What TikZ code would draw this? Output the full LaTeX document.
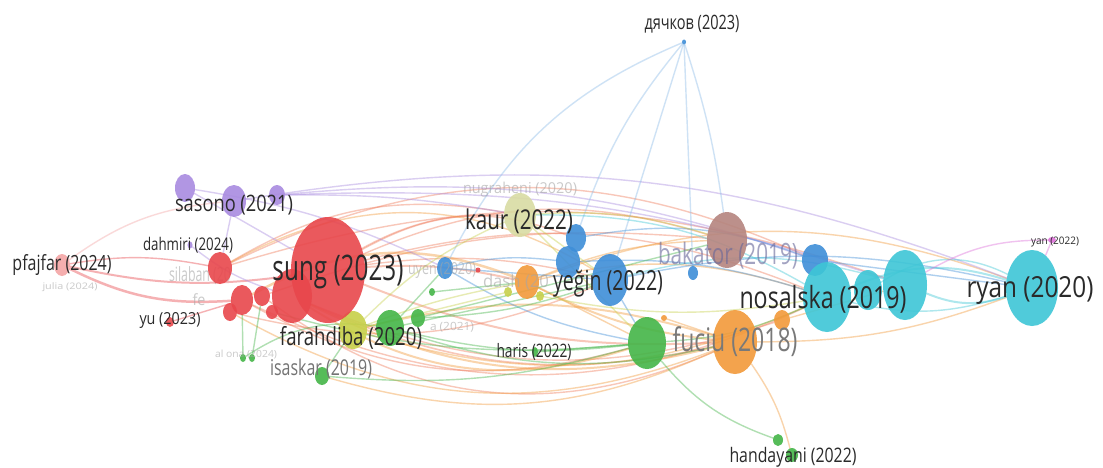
\documentclass[tikz,border=0pt]{standalone}
\usepackage{fontspec}
\setmainfont{Open Sans}
\usepackage{graphicx}
\usetikzlibrary{shapes.geometric}
\pgfdeclarelayer{bg}
\pgfdeclarelayer{bgtext}
\pgfsetlayers{bg,bgtext,main}
\definecolor{cR}{HTML}{E8474C}
\definecolor{cRe}{HTML}{F07A5A}
\definecolor{cG}{HTML}{44B548}
\definecolor{cB}{HTML}{3F8ED8}
\definecolor{cY}{HTML}{C7D04A}
\definecolor{cK}{HTML}{D9DCA3}
\definecolor{cP}{HTML}{A98BE0}
\definecolor{cC}{HTML}{3EC6D6}
\definecolor{cO}{HTML}{F29A3A}
\definecolor{cN}{HTML}{B5857F}
\definecolor{cPk}{HTML}{F4A6A6}
\definecolor{cM}{HTML}{DD6FD9}
\definecolor{txt}{HTML}{2A2A2A}
\newcommand\lbl[3]{\resizebox*{#1pt}{#2pt}{\fontsize{20}{20}\selectfont #3}}
\tikzset{
  blob/.style={ellipse, inner sep=0pt, fill opacity=0.9, draw=none},
  nR/.style={blob,fill=cR}, nG/.style={blob,fill=cG}, nB/.style={blob,fill=cB},
  nY/.style={blob,fill=cY}, nK/.style={blob,fill=cK}, nP/.style={blob,fill=cP},
  nC/.style={blob,fill=cC}, nO/.style={blob,fill=cO}, nN/.style={blob,fill=cN},
  nPk/.style={blob,fill=cPk}, nM/.style={blob,fill=cM},
  e/.style={line width=1.4pt, opacity=0.42, line cap=round},
  lab/.style={inner sep=0pt, text=txt},
  faint/.style={inner sep=0pt, text=gray!70, text opacity=0.6},
}
\begin{document}
\begin{tikzpicture}[x=1pt,y=-1pt]
\begin{pgfonlayer}{bg}
\useasboundingbox (0,0) rectangle (1103,468);
\fill[white] (0,0) rectangle (1103,468);
\end{pgfonlayer}
% ---------- bubbles ----------
\path
 (185,188) node[nP,minimum width=20pt,minimum height=28pt] (p1) {}
 (234,201) node[nP,minimum width=24pt,minimum height=32pt] (p2) {}
 (277,195) node[nP,minimum width=16pt,minimum height=20pt] (p3) {}
 (190,245) node[nP,minimum width=5pt,minimum height=7pt] (dah) {}
 (520,215) node[nK,minimum width=32pt,minimum height=44pt] (kaur) {}
 (445,268) node[nB,minimum width=16pt,minimum height=22pt] (b1) {}
 (576,238) node[nB,minimum width=20pt,minimum height=28pt] (b2) {}
 (568,262) node[nB,minimum width=24pt,minimum height=32pt] (b3) {}
 (610,280) node[nB,minimum width=36pt,minimum height=52pt] (yeg) {}
 (693,273) node[nB,minimum width=10pt,minimum height=14pt] (b5) {}
 (815,260) node[nB,minimum width=26pt,minimum height=32pt] (b6) {}
 (684,42) node[nB,minimum width=4pt,minimum height=5pt] (dya) {}
 (727,240) node[nN,minimum width=40pt,minimum height=56pt] (bak) {}
 (827,297) node[nC,minimum width=48pt,minimum height=70pt] (c1) {}
 (868,290) node[nC,minimum width=28pt,minimum height=40pt] (c2) {}
 (905,285) node[nC,minimum width=44pt,minimum height=70pt] (c3) {}
 (1032,288) node[nC,minimum width=52pt,minimum height=76pt] (ryan) {}
 (1052,240) node[nM,minimum width=8pt,minimum height=6pt] (yan) {}
 (647,343) node[nG,minimum width=38pt,minimum height=52pt] (g4) {}
 (390,328) node[nG,minimum width=28pt,minimum height=36pt] (g1) {}
 (418,318) node[nG,minimum width=14pt,minimum height=18pt] (g2) {}
 (322,376) node[nG,minimum width=14pt,minimum height=18pt] (isa) {}
 (432,292) node[nG,minimum width=6pt,minimum height=8pt] (g5) {}
 (243,358) node[nG,minimum width=6pt,minimum height=8pt] (al1) {}
 (252,358) node[nG,minimum width=6pt,minimum height=8pt] (al2) {}
 (535,352) node[nG,minimum width=6pt,minimum height=10pt] (har) {}
 (778,440) node[nG,minimum width=10pt,minimum height=12pt] (han1) {}
 (792,455) node[nG,minimum width=12pt,minimum height=14pt] (han2) {}
 (353,330) node[nY,minimum width=28pt,minimum height=38pt] (far) {}
 (508,292) node[nY,minimum width=8pt,minimum height=10pt] (y1) {}
 (540,296) node[nY,minimum width=8pt,minimum height=10pt] (y2) {}
 (527,282) node[nO,minimum width=24pt,minimum height=34pt] (dash) {}
 (735,342) node[nO,minimum width=44pt,minimum height=64pt] (fuc) {}
 (782,320) node[nO,minimum width=16pt,minimum height=20pt] (o2) {}
 (664,318) node[nO,minimum width=6pt,minimum height=6pt] (o3) {}
 (328,270) node[nR,minimum width=74pt,minimum height=106pt] (sung) {}
 (292,296) node[nR,minimum width=40pt,minimum height=54pt] (r1) {}
 (220,268) node[nR,minimum width=24pt,minimum height=32pt] (r2) {}
 (242,300) node[nR,minimum width=22pt,minimum height=30pt] (r3) {}
 (262,296) node[nR,minimum width=16pt,minimum height=20pt] (r4) {}
 (230,312) node[nR,minimum width=14pt,minimum height=18pt] (r5) {}
 (272,312) node[nR,minimum width=12pt,minimum height=14pt] (r6) {}
 (478,270) node[nR,minimum width=5pt,minimum height=5pt] (rt) {}
 (170,322) node[nR,minimum width=8pt,minimum height=10pt] (yu) {}
 (62,265) node[nPk,minimum width=16pt,minimum height=22pt] (pf) {};
% ---------- edges ----------
\begin{pgfonlayer}{bg}
\draw[e,cRe,line width=2pt] (sung) to[bend left=8] (dash);
\draw[e,cRe,line width=2pt] (sung) to[bend right=12] (fuc);
\draw[e,cRe,line width=1.6pt] (r1) to[bend right=18] (fuc);
\draw[e,cRe] (r3) to[bend right=22] (g4);
\draw[e,cRe] (sung) to[bend left=15] (kaur);
\draw[e,cRe] (sung) to[bend left=10] (yeg);
\draw[e,cRe] (r2) to[bend left=25] (b6);
\draw[e,cRe] (sung) to[bend left=18] (c1);
\draw[e,cRe] (sung) to[bend left=20] (bak);
\draw[e,cRe] (r2) to[bend left=18] (c3);
\draw[e,cRe] (r4) to[bend right=30] (fuc);
\draw[e,cRe] (sung) to[bend left=25] (b2);
\draw[e,cR] (pf) to[bend left=10] (r2);
\draw[e,cR,line width=2.5pt] (pf) to[bend right=15] (r3);
\draw[e,cR,line width=2pt] (pf) to[bend right=10] (sung);
\draw[e,cR] (yu) to (r3);
\draw[e,cRe] (r2) to[bend left=20] (kaur);
\draw[e,cRe] (r3) to[bend right=25] (c1);
\draw[e,cRe] (r1) to[bend right=20] (o2);
\draw[e,cRe] (r5) to[bend right=18] (yeg);
\draw[e,cRe] (r4) to[bend left=12] (bak);
\draw[e,cO,line width=2pt] (dash) to[bend right=10] (fuc);
\draw[e,cO] (dash) to[bend left=15] (c1);
\draw[e,cO,line width=2.5pt] (dash) to[bend right=25] (r3);
\draw[e,cO,line width=2pt] (fuc) to[bend left=20] (r1);
\draw[e,cO,line width=2pt] (r1) to[bend right=25] (g4);
\draw[e,cO] (fuc) to[bend right=10] (ryan);
\draw[e,cO] (o2) to (c3);
\draw[e,cO] (dash) to (g4);
\draw[e,cO] (fuc) to[bend left=10] (han2);
\draw[e,cO,line width=2pt] (fuc) to[bend right=15] (far);
\draw[e,cO] (far) to[bend right=20] (c1);
\draw[e,cO] (isa) to[bend right=20] (fuc);
\draw[e,cO] (r2) to[bend left=30] (yeg);
\draw[e,cO] (dash) to[bend left=20] (ryan);
\draw[e,cO] (dash) to[bend left=10] (bak);
\draw[e,cO] (o3) to (fuc);
\draw[e,cO] (fuc) to[bend left=25] (r5);
\draw[e,cP] (p2) to[bend left=15] (ryan);
\draw[e,cP] (p3) to[bend left=10] (c3);
\draw[e,cP] (p3) to[bend left=12] (b6);
\draw[e,cP] (p1) to[bend left=8] (b1);
\draw[e,cP] (p2) to (r2);
\draw[e,cP] (p1) to (sung);
\draw[e,cP] (dah) to[bend right=10] (r1);
\draw[e,cP] (p3) to[bend left=5] (kaur);
\draw[e,cPk] (pf) to[bend left=15] (p2);
\draw[e,cB!60] (dya) to[bend right=10] (b2);
\draw[e,cB!60] (dya) to (yeg);
\draw[e,cB!60] (dya) to (b5);
\draw[e,cB!60] (dya) to[bend left=5] (bak);
\draw[e,cB!60] (dya) to[bend right=20] (b1);
\draw[e,cB] (b1) to (yeg);
\draw[e,cB] (b3) to[bend left=10] (c1);
\draw[e,cB] (yeg) to[bend left=12] (ryan);
\draw[e,cB] (b6) to (ryan);
\draw[e,cB] (b2) to[bend left=15] (b6);
\draw[e,cB] (b1) to[bend left=10] (b3);
\draw[e,cB] (b1) to[bend right=10] (g4);
\draw[e,cB] (yeg) to (g4);
\draw[e,cC,line width=2pt] (c1) to[bend left=20] (ryan);
\draw[e,cC,line width=2pt] (c3) to[bend right=20] (ryan);
\draw[e,cC] (c2) to[bend left=30] (ryan);
\draw[e,cC] (c1) to[bend right=15] (ryan);
\draw[e,cC] (yeg) to[bend left=15] (c3);
\draw[e,cC] (kaur) to[bend left=15] (c1);
\draw[e,cG] (g1) to[bend right=10] (g4);
\draw[e,cG] (g1) to[bend right=15] (fuc);
\draw[e,cG] (isa) to[bend right=10] (g4);
\draw[e,cG] (al1) to (r3);
\draw[e,cG] (al2) to (r4);
\draw[e,cG] (har) to (g4);
\draw[e,cG] (g4) to[bend right=15] (han1);
\draw[e,cG] (g4) to[bend right=10] (c1);
\draw[e,cG] (isa) to (far);
\draw[e,cG] (g1) to (yeg);
\draw[e,cG] (g2) to (bak);
\draw[e,cG] (g2) to[bend right=8] (yeg);
\draw[e,cG] (g1) to (b1);
\draw[e,cG] (g5) to (dash);
\draw[e,cG] (al1) to[bend left=20] (g1);
\draw[e,cG] (r6) to[bend right=10] (g4);
\draw[e,cY] (kaur) to (yeg);
\draw[e,cY] (kaur) to[bend left=10] (bak);
\draw[e,cY] (far) to[bend left=10] (kaur);
\draw[e,cY] (far) to[bend left=5] (dash);
\draw[e,cY] (kaur) to (g4);
\draw[e,cY] (y1) to (far);
\draw[e,cY] (y2) to[bend right=10] (c1);
\draw[e,cM] (yan) to[bend right=15] (c3);
\draw[e,cM] (yan) to (ryan);
\end{pgfonlayer}
\begin{pgfonlayer}{bgtext}
\node[faint] (Lsil) at (200,276) {\lbl{62}{18}{silaban (20}};
\node[faint] (Lfe) at (199,300) {\lbl{13}{12}{fe}};
\end{pgfonlayer}
% ---------- labels ----------
\node[lab] (Lsung) at (338,272) {\lbl{131}{34}{sung (2023)}};
\node[lab] (Lryan) at (1030,290) {\lbl{127}{28}{ryan (2020)}};
\node[lab] (Lnos) at (823,299) {\lbl{167}{28}{nosalska (2019)}};
\node[lab,text=gray!95!black] (Lfuc) at (735,342) {\lbl{125}{30}{fuciu (2018)}};
\node[lab] (Lkaur) at (519,221) {\lbl{108}{25}{kaur (2022)}};
\node[lab] (Lyeg) at (608,284) {\lbl{110}{27}{yeğin (2022)}};
\node[faint,text=gray!80!blue] (Lbak) at (728,256) {\lbl{140}{27}{bakator (2019)}};
\node[lab] (Lsas) at (234,205) {\lbl{118}{20}{sasono (2021)}};
\node[lab] (Lfar) at (351,338) {\lbl{142}{23}{farahdiba (2020)}};
\node[lab] (Lpf) at (62,265) {\lbl{99}{21}{pfajfar (2024)}};
\node[lab] (Ldah) at (188,245) {\lbl{90}{16}{dahmiri (2024)}};
\node[lab] (Lyu) at (170,320) {\lbl{61}{16}{yu (2023)}};
\node[lab] (Lhar) at (534,352) {\lbl{75}{17}{haris (2022)}};
\node[lab] (Lhan) at (793,457) {\lbl{127}{20}{handayani (2022)}};
\node[lab,text=gray!90!black] (Lisa) at (321,369) {\lbl{102}{20}{isaskar (2019)}};
\node[lab] (Ldya) at (692,24) {\lbl{95}{18}{дячков (2023)}};
\node[lab] (Lyan) at (1055,242) {\lbl{48}{10}{yan (2022)}};
\node[faint] (Lnug) at (520,190) {\lbl{114}{15}{nugraheni (2020)}};
\node[faint] (Ljul) at (70,287) {\lbl{55}{9}{julia (2024)}};
\node[faint] (Lal) at (246,355) {\lbl{62}{9}{al ona (2024)}};
\node[faint] (Lnguy) at (442,270) {\lbl{68}{16}{uyen (2020)}};
\node[faint] (Ldash) at (516,282) {\lbl{66}{16}{dash (20}};
\node[faint] (La21) at (452,327) {\lbl{44}{10}{a (2021)}};
\end{tikzpicture}
\end{document}
